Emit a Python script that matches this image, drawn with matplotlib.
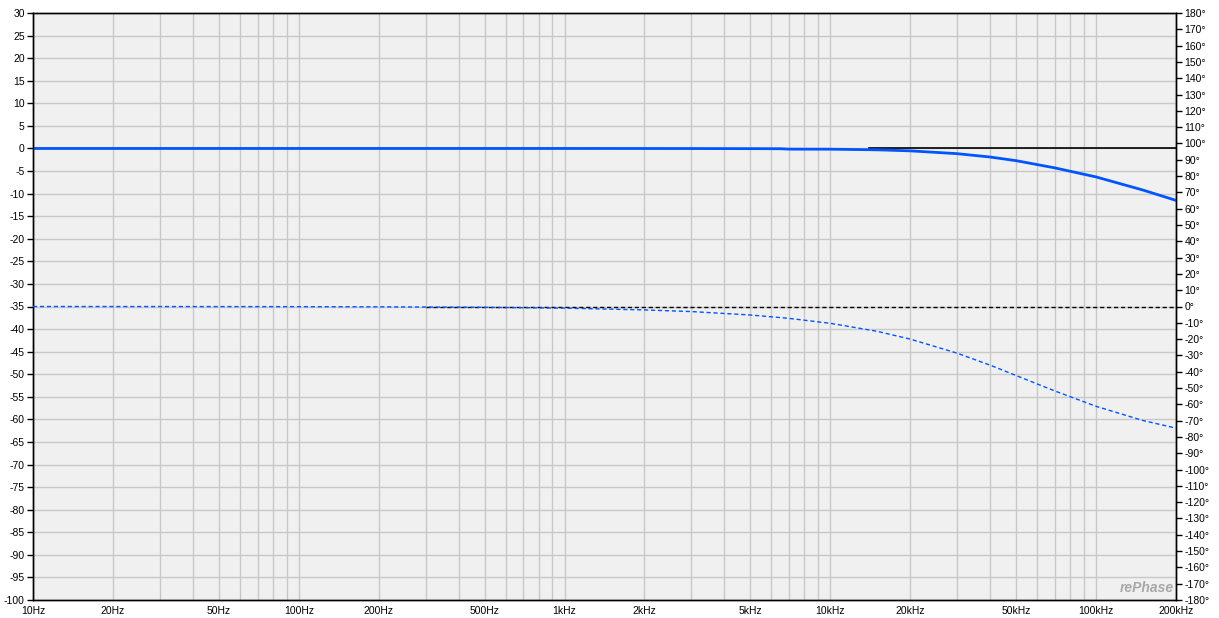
import numpy as np
import matplotlib
matplotlib.use('Agg')
import matplotlib.pyplot as plt
from matplotlib.ticker import FixedLocator, NullFormatter

plt.rcParams['font.family'] = ['Liberation Sans', 'DejaVu Sans']
plt.rcParams['axes.unicode_minus'] = False

# frequency response
freq = [10, 20, 50, 100, 200, 500, 1000, 2000, 3000, 5000, 6500, 7000, 10000,
        15000, 20000, 30000, 40000, 50000, 70000, 100000, 150000, 200000]
mag_db = [0, 0, 0, 0, 0, 0, 0, -0.01, -0.02, -0.04, -0.06, -0.15, -0.16,
          -0.3, -0.53, -1.15, -1.9, -2.7, -4.3, -6.3, -9.2, -11.5]
phase_deg = [0, -0.02, -0.05, -0.1, -0.2, -0.5, -1.0, -2.1, -3.1, -5.2, -6.8, -7.3,
             -10.3, -15.2, -20.0, -28.6, -36.0, -42.3, -51.8, -61.2, -69.9, -74.6]

# target curves (black)
tgt_mag_freq = [14000, 200000]
tgt_mag_db = [0, 0]
tgt_ph_freq = [300, 200000]
tgt_ph_deg = [0, 0]

xtick_vals = [10, 20, 50, 100, 200, 500, 1000, 2000, 5000, 10000, 20000, 50000, 100000, 200000]
xtick_labels = ['10Hz', '20Hz', '50Hz', '100Hz', '200Hz', '500Hz', '1kHz', '2kHz', '5kHz',
                '10kHz', '20kHz', '50kHz', '100kHz', '200kHz']

blue = '#0055ff'
grid_c = '#c8c8c8'

fig = plt.figure(figsize=(12.19, 6.18), dpi=100)
ax = fig.add_axes([33 / 1219, 1 - 600 / 618, (1176 - 33) / 1219, (600 - 13) / 618])
ax.set_facecolor('#f0f0f0')
ax.set_xscale('log')
ax.set_xlim(10, 200000)
ax.set_ylim(-100, 30)

# vertical grid at every 1..9 of each decade
vgrid = [m * 10 ** d for d in range(1, 6) for m in range(1, 10) if m * 10 ** d <= 200000]
for v in vgrid:
    ax.axvline(v, color=grid_c, lw=1, zorder=0)
for h in range(-95, 30, 5):
    ax.axhline(h, color=grid_c, lw=1, zorder=0)

ax.set_yticks(range(-100, 31, 5))
ax.xaxis.set_major_locator(FixedLocator(xtick_vals))
ax.set_xticklabels(xtick_labels)
ax.xaxis.set_minor_formatter(NullFormatter())
ax.tick_params(axis='x', which='both', length=0, labelsize=7.5, pad=4)
ax.tick_params(axis='y', length=4, width=1, labelsize=7.5, pad=2)

ax.plot(tgt_mag_freq, tgt_mag_db, color='black', lw=1.2, zorder=3)
ax.plot(freq, mag_db, color=blue, lw=2, zorder=4)

ax2 = ax.twinx()
ax2.set_ylim(-180, 180)
ax2.set_yticks(range(-180, 181, 10))
ax2.set_yticklabels([f'{v}°' for v in range(-180, 181, 10)])
ax2.tick_params(axis='y', length=4, width=1, labelsize=7.5, pad=2)
ax2.plot(tgt_ph_freq, tgt_ph_deg, color='black', lw=1, ls=(0, (3, 2)), zorder=3)
ax2.plot(freq, phase_deg, color=blue, lw=1, ls=(0, (3, 2)), zorder=4)

for a in (ax, ax2):
    for s in a.spines.values():
        s.set_color('black')
        s.set_linewidth(1)

ax.text(0.998, 0.008, 'rePhase', transform=ax.transAxes, ha='right', va='bottom',
        fontsize=10, color='#a8a8a8', style='italic', weight='bold')

fig.savefig('out.png', dpi=100)
